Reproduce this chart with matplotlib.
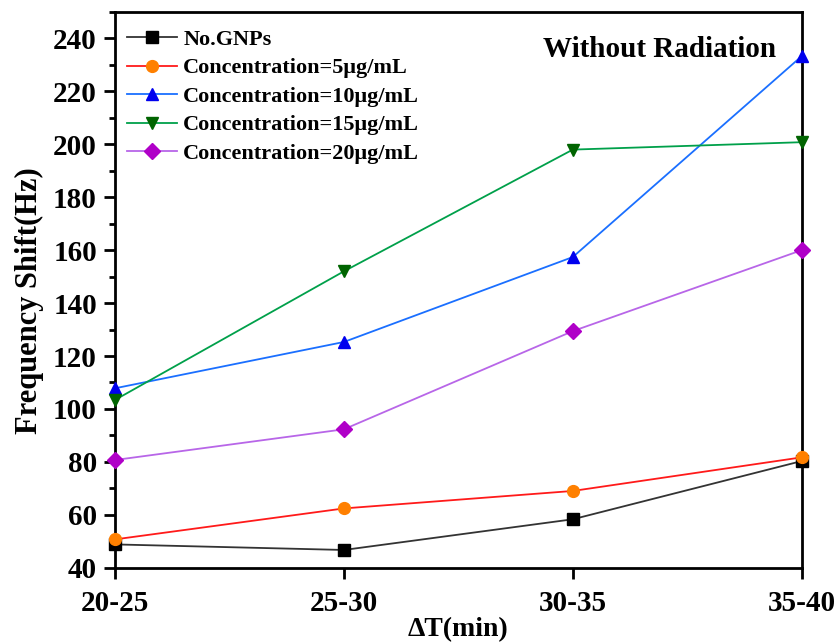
import numpy as np
import matplotlib
matplotlib.use('Agg')
import matplotlib.pyplot as plt
from matplotlib.ticker import MultipleLocator

# data
intervals = ['20-25', '25-30', '30-35', '35-40']
no_gnps = [48.8, 46.7, 58.3, 80.3]
conc_5 = [50.7, 62.4, 69.0, 81.7]
conc_10 = [107.8, 125.3, 157.4, 233.3]
conc_15 = [103.4, 152.0, 198.0, 200.8]
conc_20 = [80.7, 92.3, 129.4, 160.0]

series = [
    ('No.GNPs', no_gnps, '#333333', 'black', 's', 8),
    ('Concentration=5\u03bcg/mL', conc_5, '#ff1a1a', '#ff8000', 'o', 8.5),
    ('Concentration=10\u03bcg/mL', conc_10, '#1a6fff', '#0000ee', '^', 9),
    ('Concentration=15\u03bcg/mL', conc_15, '#00a04a', '#006400', 'v', 9),
    ('Concentration=20\u03bcg/mL', conc_20, '#b866e8', '#b000c8', 'D', 8),
]

plt.rcParams['font.family'] = ['Liberation Serif', 'DejaVu Serif']
plt.rcParams['font.weight'] = 'bold'

fig = plt.figure(figsize=(8.37, 6.44), dpi=100)
ax = fig.add_axes([115 / 837, 1 - 567.7 / 644, (801.7 - 115) / 837, (567.7 - 12) / 644])

x = np.arange(len(intervals))
for name, vals, lc, mc, mk, ms in series:
    ax.plot(x, vals, color=lc, lw=1.3, marker=mk, markersize=ms,
            markerfacecolor=mc, markeredgecolor=mc, label=name, clip_on=False, zorder=3)

ax.set_xlim(0, 3)
ax.set_ylim(40, 250)
ax.set_xticks(x)
ax.set_xticklabels(intervals)
ax.set_yticks([40, 60, 80, 100, 120, 140, 160, 180, 200, 220, 240])
ax.yaxis.set_minor_locator(MultipleLocator(10))
ax.tick_params(axis='both', which='major', direction='out', length=8, width=2, labelsize=21, pad=5)
ax.tick_params(axis='x', which='major', pad=8)
ax.tick_params(axis='y', which='minor', direction='out', length=4.5, width=2)
for sp in ax.spines.values():
    sp.set_linewidth(2)

ax.set_xlabel('\u0394T(min)', fontsize=20, fontweight='bold', labelpad=0)
ax.set_ylabel('Frequency Shift(Hz)', fontsize=22, fontweight='bold')
ax.yaxis.set_label_coords(-0.103, 0.48)

ax.text(0.9626, 0.933, 'Without Radiation', transform=ax.transAxes, ha='right', va='center',
        fontsize=21, fontweight='bold')

leg = ax.legend(loc='upper left', frameon=False, fontsize=16, handlelength=2.25,
                handletextpad=0.27, labelspacing=0.36, borderaxespad=0.0,
                bbox_to_anchor=(0.005, 0.985))

fig.savefig('out.png', dpi=100)
